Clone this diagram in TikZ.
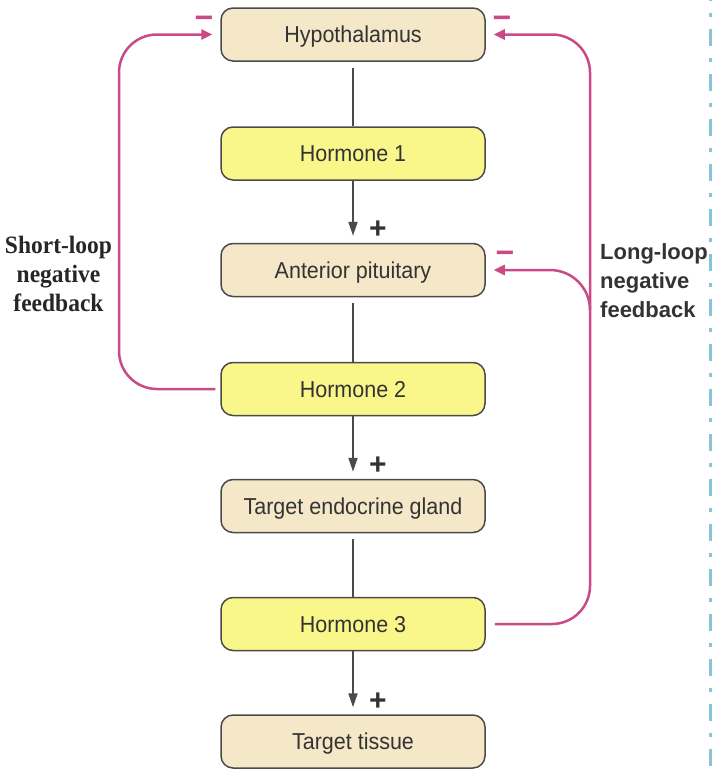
\documentclass[tikz,border=0pt]{standalone}
\usepackage{fontspec}
\setmainfont{Liberation Sans}
\newfontfamily\boxfont[FakeStretch=0.935]{Liberation Sans}
\newfontfamily\serifbold[FakeStretch=0.94]{Liberation Serif}
\usetikzlibrary{arrows.meta}
\definecolor{beige}{HTML}{F5E8C8}
\definecolor{lemon}{HTML}{FAF78A}
\definecolor{fbpink}{HTML}{C94A86}
\definecolor{boxline}{HTML}{4A4A4A}
\definecolor{txt}{HTML}{333333}
\definecolor{dashblue}{HTML}{86C6D8}
\begin{document}
\begin{tikzpicture}[x=1pt,y=-1pt,
  boxbase/.style={draw=boxline, line width=1.5pt, rounded corners=12pt,
    minimum width=264pt, minimum height=53pt, inner sep=0pt,
    text height=16pt, text depth=0pt,
    font=\boxfont\fontsize{23}{27}\selectfont, text=txt},
  organ/.style={boxbase, fill=beige},
  hormone/.style={boxbase, fill=lemon},
  link/.style={draw=boxline, line width=2pt},
  stim/.style={link, -{Triangle[length=14pt,width=9pt]}, shorten >=7pt},
  fb/.style={draw=fbpink, line width=2.5pt, rounded corners=38pt,
    -{Triangle[length=11pt,width=10pt]}, shorten >=8pt},
  plussign/.style={font=\bfseries\fontsize{30}{30}\selectfont, inner sep=0pt, text=txt},
  minussign/.style={font=\bfseries\fontsize{32}{32}\selectfont, inner sep=0pt, text=fbpink},
]
\fill[white] (0,0) rectangle (712,772);
\useasboundingbox (0,0) rectangle (712,772);

% dashed light-blue line at the right edge
\draw[dashblue, line width=3pt, dash pattern=on 17pt off 12pt on 4pt off 12pt, dash phase=16pt]
  (710.5,0) -- (710.5,772);

% boxes
\node[organ]   (hypo) at (353,34.5)  {Hypothalamus};
\node[hormone] (h1)   at (353,153.5) {Hormone 1};
\node[organ]   (ap)   at (353,270)   {Anterior pituitary};
\node[hormone] (h2)   at (353,389)   {Hormone 2};
\node[organ]   (teg)  at (353,506)   {Target endocrine gland};
\node[hormone] (h3)   at (353,624)   {Hormone 3};
\node[organ]   (tt)   at (353,741.5) {Target tissue};

% main chain
\draw[link, shorten <=6pt] (hypo.south) -- (h1.north);
\draw[stim] (h1.south) -- (ap.north);
\draw[link, shorten <=6pt] (ap.south) -- (h2.north);
\draw[stim] (h2.south) -- (teg.north);
\draw[link, shorten <=6pt] (teg.south) -- (h3.north);
\draw[stim] (h3.south) -- (tt.north);

\node[plussign] (p1) at ([xshift=25pt,yshift=13pt]ap.north)  {+};
\node[plussign] (p2) at ([xshift=25pt,yshift=13pt]teg.north) {+};
\node[plussign] (p3) at ([xshift=25pt,yshift=13pt]tt.north)  {+};

% feedback loops
\coordinate (slx) at (119,0);
\draw[fb, shorten <=5pt] (h2.west) -| (slx |- hypo.west) -- (hypo.west);
\coordinate (llx) at (590,0);
\draw[fb, shorten <=9pt] (h3.east) -| (llx |- hypo.east) -- (hypo.east);
\coordinate (br) at (590,310);
\draw[fb, rounded corners=40pt] (br) |- (ap.east);

\node[minussign] (m1) at (204,22) {−};
\node[minussign] (m2) at (502,22) {−};
\node[minussign] (m3) at (505,257) {−};

% labels
\node[font=\serifbold\bfseries\fontsize{25}{29}\selectfont, align=center, anchor=north,
      inner sep=0pt, text=black!85] (sl) at (58.5,236) {Short-loop\\negative\\feedback};
\node[font=\bfseries\fontsize{22}{29}\selectfont, align=left, anchor=north west,
      inner sep=0pt, text=txt] (ll) at (600,243) {Long-loop\\negative\\feedback};
\end{tikzpicture}
\end{document}
